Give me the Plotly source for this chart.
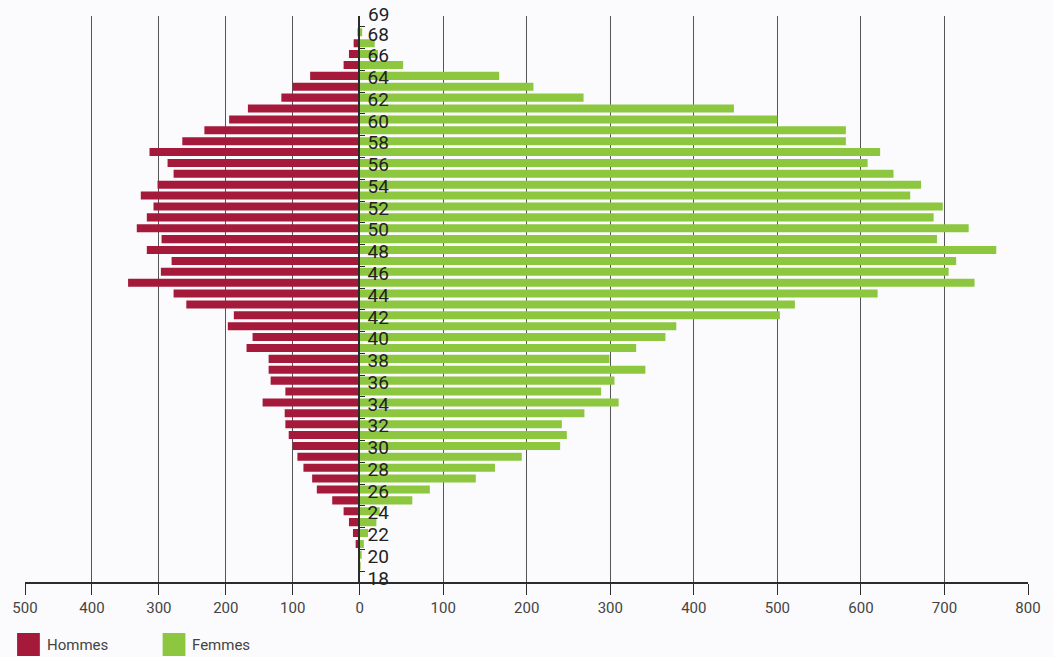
import plotly.graph_objects as go

# ---------------- data ----------------
ages = list(range(18, 69))
hommes = [0, 0, 0, 6, 10, 16, 24, 41, 64, 71,
          84, 93, 100, 106, 111, 112, 145, 111, 133, 136,
          136, 169, 160, 197, 188, 259, 278, 346, 297, 281,
          318, 296, 333, 318, 308, 327, 302, 278, 287, 314,
          265, 232, 195, 167, 117, 100, 74, 24, 16, 9, 3]
femmes = [0, 1, 2, 5, 10, 20, 24, 63, 84, 139,
          162, 194, 240, 248, 242, 269, 310, 289, 305, 342,
          299, 331, 366, 379, 503, 521, 620, 736, 705, 714,
          762, 691, 729, 687, 698, 659, 672, 639, 608, 623,
          582, 582, 500, 448, 268, 208, 167, 52, 22, 18, 3]
left_tickvals = [-500, -400, -300, -200, -100, 0]
left_ticktext = ["500", "400", "300", "200", "100", "0"]
right_tickvals = [100, 200, 300, 400, 500, 600, 700, 800]
age_labels = [str(a) for a in range(18, 69, 2)]
series_names = ["Hommes", "Femmes"]

RED = "#A51A3B"
GREEN = "#8DC63F"
BG = "#FBFBFD"
AXIS = "#2b2b2b"
GRID = "#555555"
TXT = "#444444"
AGE_FONT = dict(family="Liberation Sans Narrow, Roboto, sans-serif", size=19, color="#222222")

# plot area in pixels (for legend placement)
W, H = 1053, 657
L, R, T, B = 22, 18, 16, 75
pw, ph = W - L - R, H - T - B
split = 338 / pw  # left (men) domain share


def px_x(x):
    return (x - L) / pw


def px_y(y):
    return (H - B - y) / ph


fig = go.Figure()
fig.add_trace(go.Bar(y=ages, x=[-v for v in hommes], orientation="h",
                     xaxis="x", yaxis="y", marker=dict(color=RED, line=dict(width=0)),
                     width=0.74, name=series_names[0], showlegend=False))
fig.add_trace(go.Bar(y=ages, x=femmes, orientation="h",
                     xaxis="x2", yaxis="y2", marker=dict(color=GREEN, line=dict(width=0)),
                     width=0.74, name=series_names[1], showlegend=False))

tick_font = dict(family="Roboto, sans-serif", size=15, color=TXT)
common_x = dict(showgrid=True, gridcolor=GRID, gridwidth=1.2, zeroline=False,
                showline=True, linecolor=AXIS, linewidth=1.5,
                ticks="outside", ticklen=11, tickcolor=AXIS, tickwidth=1.2,
                tickfont=tick_font, fixedrange=True)

fig.update_layout(
    width=W, height=H,
    margin=dict(l=L, r=R, t=T, b=B),
    paper_bgcolor=BG, plot_bgcolor=BG,
    barmode="overlay",
    xaxis=dict(domain=[0, split], range=[-500, 0], anchor="y",
               tickmode="array", tickvals=left_tickvals, ticktext=left_ticktext,
               **common_x),
    xaxis2=dict(domain=[split, 1], range=[0, 800], anchor="y2",
                tickmode="array", tickvals=right_tickvals,
                **common_x),
    yaxis=dict(range=[17.5, 69.5], anchor="x", showgrid=False, zeroline=False,
               showline=False, ticks="", showticklabels=False, fixedrange=True),
    yaxis2=dict(range=[17.5, 69.5], anchor="x2", side="left", matches="y",
                showgrid=False, zeroline=False,
                showline=True, linecolor=AXIS, linewidth=1.5,
                ticks="inside", ticklen=6, tickcolor=AXIS, tickwidth=1.2,
                ticklabelposition="inside",
                ticklabeloverflow="allow",
                ticklabelstandoff=3,
                tickmode="array",
                tickvals=[a + 0.5 for a in range(18, 69, 2)] + [69.5],
                ticktext=age_labels + [""],
                ticklabelshift=7,
                tickfont=AGE_FONT,
                layer="above traces", fixedrange=True),
    showlegend=False,
)

# top label "69"
fig.add_annotation(x=0, y=69.5, xref="x2", yref="y2", text="69", showarrow=False,
                   xanchor="left", yanchor="middle", xshift=7, yshift=2,
                   borderpad=0, font=AGE_FONT)

# legend
legend_items = [(series_names[0], RED, 14, 42), (series_names[1], GREEN, 161, 189)]
for name, col, sx, tx in legend_items:
    fig.add_shape(type="rect", xref="paper", yref="paper",
                  x0=px_x(sx), x1=px_x(sx + 23), y0=px_y(633), y1=px_y(656),
                  fillcolor=col, line=dict(width=0), layer="above")
    fig.add_annotation(xref="paper", yref="paper", x=px_x(tx), y=px_y(645),
                       text=name, showarrow=False, xanchor="left", yanchor="middle",
                       font=dict(family="Roboto, sans-serif", size=15, color=TXT))

fig.write_html("out.html",
               config={"displayModeBar": False},
               post_script="document.body.style.margin='0';document.body.style.padding='0';"
                           "document.documentElement.style.overflow='hidden';")
